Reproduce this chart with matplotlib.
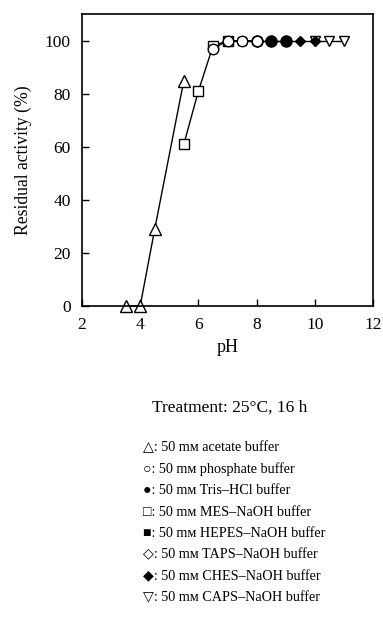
import matplotlib
matplotlib.use("Agg")
import matplotlib.pyplot as plt

plt.rcParams['font.family'] = ['Liberation Serif', 'DejaVu Serif', 'DejaVu Sans']

# Residual activity (%) vs pH for each buffer
acetate_ph = [3.5, 4.0, 4.5, 5.5]
acetate_act = [0, 0, 29, 85]
mes_ph = [5.5, 6.0, 6.5, 7.0]
mes_act = [61, 81, 98, 100]
phosphate_ph = [6.5, 7.0, 7.5, 8.0]
phosphate_act = [97, 100, 100, 100]
hepes_ph = [7.0, 7.5, 8.0]
hepes_act = [100, 100, 100]
tris_ph = [8.0, 8.5, 9.0]
tris_act = [100, 100, 100]
taps_ph = [8.0, 8.5, 9.0]
taps_act = [100, 100, 100]
ches_ph = [9.0, 9.5, 10.0]
ches_act = [100, 100, 100]
caps_ph = [10.0, 10.5, 11.0]
caps_act = [100, 100, 100]

legend_symbols = ['△', '○', '●', '□', '■', '◇', '◆', '▽']
legend_buffers = ['acetate buffer', 'phosphate buffer', 'Tris–HCl buffer',
                  'MES–NaOH buffer', 'HEPES–NaOH buffer', 'TAPS–NaOH buffer',
                  'CHES–NaOH buffer', 'CAPS–NaOH buffer']

fig = plt.figure(figsize=(3.83, 6.17), dpi=100)
ax = fig.add_axes([0.214, 0.504, 0.76, 0.473])

lw = 1.0
common = dict(color='black', lw=lw, markeredgewidth=1.0, clip_on=False)
ax.plot(hepes_ph, hepes_act, marker='s', mfc='black', markersize=6, **common)
ax.plot(taps_ph, taps_act, marker='D', mfc='white', markersize=4.5, **common)
ax.plot(caps_ph, caps_act, marker='v', mfc='white', markersize=7.5, **common)
ax.plot(ches_ph, ches_act, marker='D', mfc='black', markersize=5.5, **common)
ax.plot(tris_ph, tris_act, marker='o', mfc='black', markersize=8, **common)
ax.plot(mes_ph, mes_act, marker='s', mfc='white', markersize=7.5, **common)
ax.plot(phosphate_ph, phosphate_act, marker='o', mfc='white', markersize=7.5, **common)
ax.plot(acetate_ph, acetate_act, marker='^', mfc='white', markersize=8, **common)

ax.set_xlim(2, 12)
ax.set_ylim(0, 110)
ax.set_xticks([2, 4, 6, 8, 10, 12])
ax.set_yticks([0, 20, 40, 60, 80, 100])
ax.tick_params(direction='in', length=5, width=1, labelsize=12.5)
ax.tick_params(axis='x', pad=8)
ax.tick_params(axis='y', pad=8)
for s in ax.spines.values():
    s.set_linewidth(1.2)

ax.set_xlabel('pH', fontsize=13, labelpad=4)
ax.set_ylabel('Residual activity (%)', fontsize=12.7, labelpad=9)

fig.text(0.60, 1 - 408 / 617, 'Treatment: 25°C, 16 h', ha='center', va='center', fontsize=12.5)

y0 = 448
for i, (sym, buf) in enumerate(zip(legend_symbols, legend_buffers)):
    y = 1 - (y0 + i * 21.4) / 617
    fig.text(143 / 383, y, sym + ': 50 mᴍ ' + buf, ha='left', va='center', fontsize=10.2,
             family=['Liberation Serif', 'DejaVu Sans'])

fig.savefig('out.png', dpi=100)
